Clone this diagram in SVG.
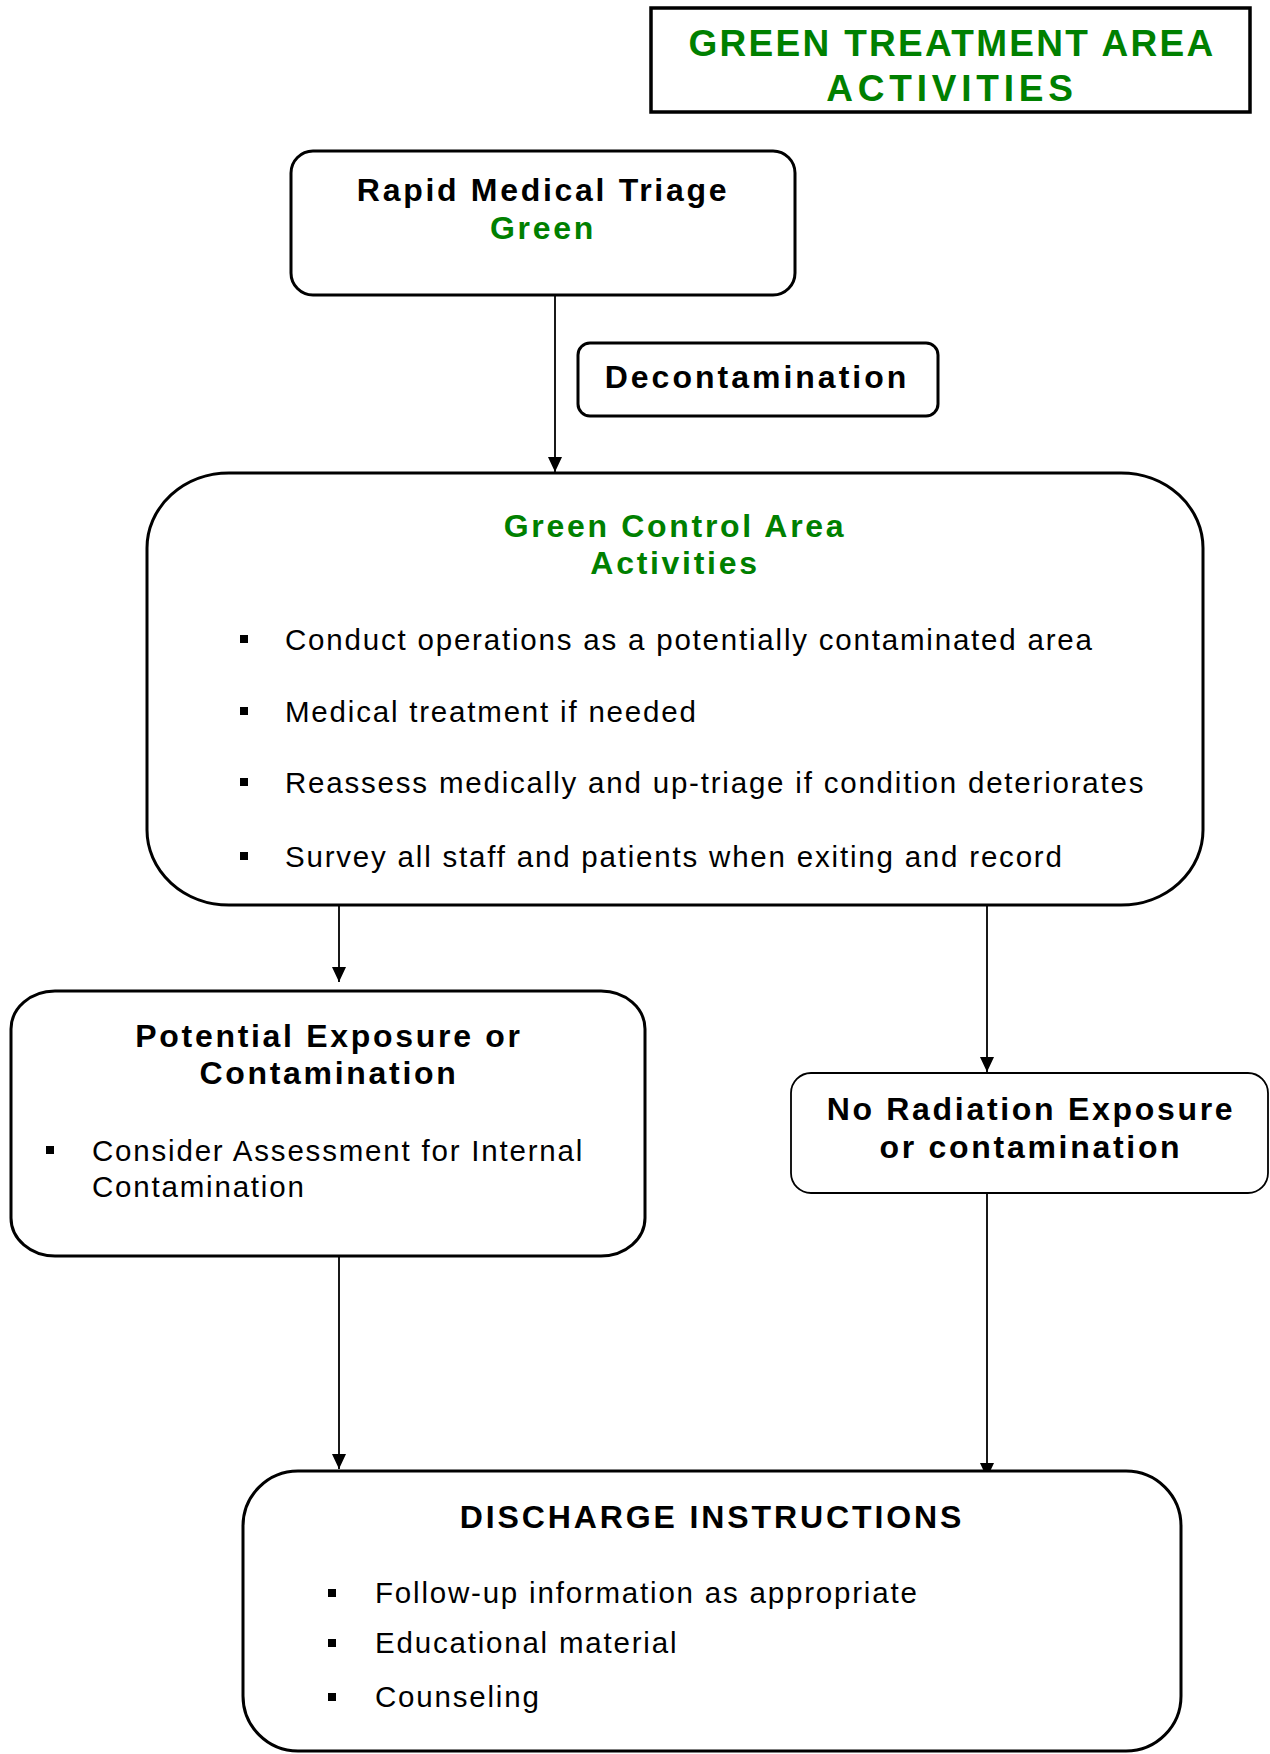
<svg xmlns="http://www.w3.org/2000/svg" width="1270" height="1754" viewBox="0 0 1270 1754">
<defs>
<style>
.box{fill:#fff;stroke:#000;stroke-width:3}
.thin{fill:#fff;stroke:#000;stroke-width:1.8}
.h{font-family:"Liberation Sans",Arial,sans-serif;font-weight:bold;font-size:32px;letter-spacing:2.7px;text-anchor:middle;fill:#000}
.g{fill:#008000}
.t{font-family:"Liberation Sans",Arial,sans-serif;font-size:29.5px;letter-spacing:1.8px;fill:#000}
.conn{stroke:#000;stroke-width:1.8;fill:none;marker-end:url(#arr)}
</style>
<marker id="arr" viewBox="0 0 15 14" refX="15" refY="7" markerWidth="15" markerHeight="14" markerUnits="userSpaceOnUse" orient="auto">
<path d="M0,0 L15,7 L0,14 z" fill="#000"/>
</marker>
</defs>
<rect width="1270" height="1754" fill="#fff"/>

<g id="connectors">
<line class="conn" x1="555" y1="295" x2="555" y2="472"/>
<line class="conn" x1="339" y1="905" x2="339" y2="982"/>
<line class="conn" x1="987" y1="905" x2="987" y2="1072"/>
<line class="conn" x1="339" y1="1254" x2="339" y2="1469"/>
<line class="conn" x1="987" y1="1193" x2="987" y2="1478"/>
</g>

<g id="title">
<rect x="651" y="8" width="599" height="104" fill="#fff" stroke="#000" stroke-width="3.5"/>
<text class="h g" x="952" y="56" style="font-size:37px;letter-spacing:2.3px">GREEN TREATMENT AREA</text>
<text class="h g" x="952" y="101" style="font-size:37px;letter-spacing:4.8px">ACTIVITIES</text>
</g>

<g id="rapid-triage">
<rect class="box" x="291" y="151" width="504" height="144" rx="22"/>
<text class="h" x="543" y="201">Rapid Medical Triage</text>
<text class="h g" x="543" y="239">Green</text>
</g>

<g id="decontamination">
<rect class="box" x="578" y="343" width="360" height="73" rx="12"/>
<text class="h" x="757" y="388" style="letter-spacing:3px">Decontamination</text>
</g>

<g id="green-control">
<rect class="box" x="147" y="473" width="1056" height="432" rx="82" ry="75"/>
<text class="h g" x="675" y="537">Green Control Area</text>
<text class="h g" x="675" y="574">Activities</text>
<rect x="240" y="635" width="8" height="8"/>
<text class="t" x="285" y="650">Conduct operations as a potentially contaminated area</text>
<rect x="240" y="707" width="8" height="8"/>
<text class="t" x="285" y="722">Medical treatment if needed</text>
<rect x="240" y="778" width="8" height="8"/>
<text class="t" x="285" y="793">Reassess medically and up-triage if condition deteriorates</text>
<rect x="240" y="852" width="8" height="8"/>
<text class="t" x="285" y="867">Survey all staff and patients when exiting and record</text>
</g>

<g id="potential-exposure">
<rect class="box" x="11" y="991" width="634" height="265" rx="44" ry="38"/>
<text class="h" x="329" y="1047">Potential Exposure or</text>
<text class="h" x="329" y="1084">Contamination</text>
<rect x="46" y="1146" width="8" height="8"/>
<text class="t" x="92" y="1161">Consider Assessment for Internal</text>
<text class="t" x="92" y="1197">Contamination</text>
</g>

<g id="no-radiation">
<rect class="thin" x="791" y="1073" width="477" height="120" rx="20"/>
<text class="h" x="1031" y="1120">No Radiation Exposure</text>
<text class="h" x="1031" y="1158">or contamination</text>
</g>

<g id="discharge">
<rect class="box" x="243" y="1471" width="938" height="280" rx="55"/>
<text class="h" x="712" y="1528" style="letter-spacing:2.9px">DISCHARGE INSTRUCTIONS</text>
<rect x="328" y="1589" width="8" height="8"/>
<text class="t" x="375" y="1603">Follow-up information as appropriate</text>
<rect x="328" y="1639" width="8" height="8"/>
<text class="t" x="375" y="1653">Educational material</text>
<rect x="328" y="1693" width="8" height="8"/>
<text class="t" x="375" y="1707">Counseling</text>
</g>
</svg>
